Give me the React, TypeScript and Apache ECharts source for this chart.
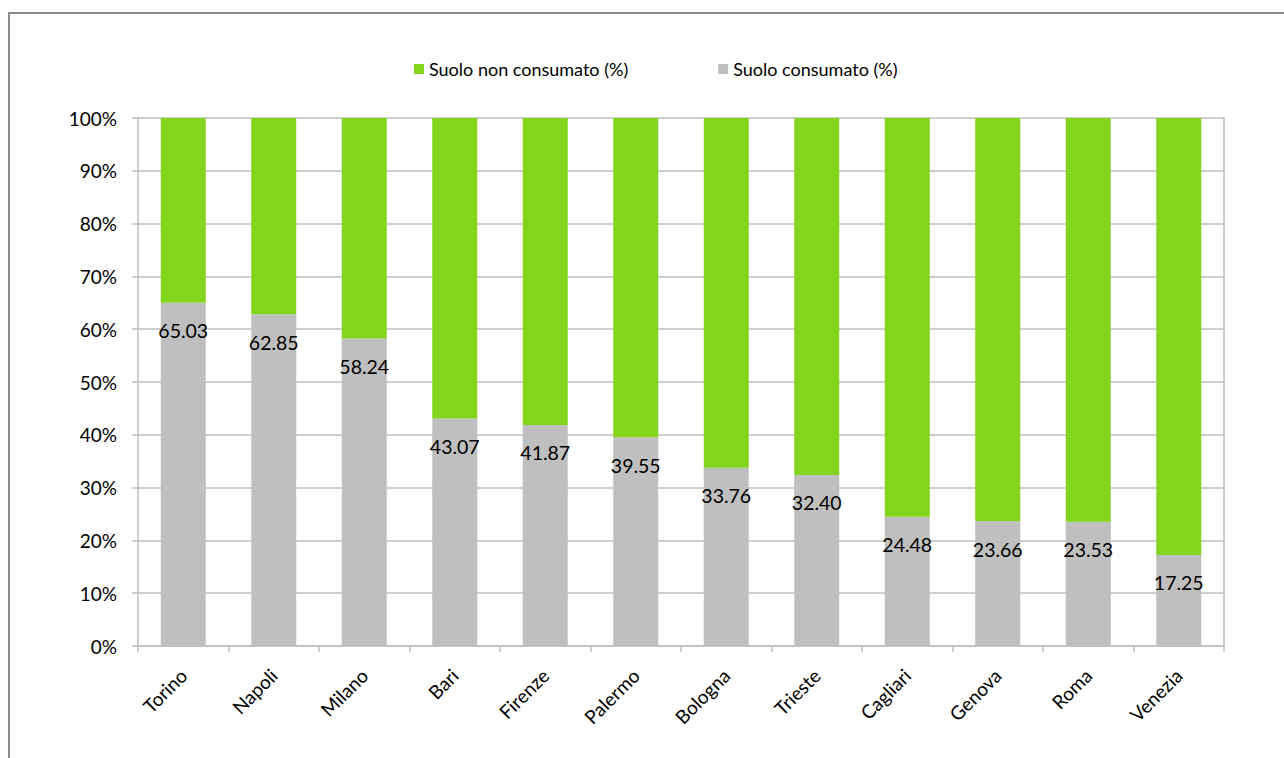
import React, { useEffect, useRef } from "react";
import * as echarts from "echarts";

const cities = ["Torino", "Napoli", "Milano", "Bari", "Firenze", "Palermo", "Bologna", "Trieste", "Cagliari", "Genova", "Roma", "Venezia"];
const consumed = [65.03, 62.85, 58.24, 43.07, 41.87, 39.55, 33.76, 32.4, 24.48, 23.66, 23.53, 17.25];
const notConsumed = [34.97, 37.15, 41.76, 56.93, 58.13, 60.45, 66.24, 67.6, 75.52, 76.34, 76.47, 82.75];
const seriesNames = ["Suolo non consumato (%)", "Suolo consumato (%)"];

const FONT = "Lato";
const GRID_COLOR = "#BFBFBF";

export default function App() {
  const ref = useRef<HTMLDivElement>(null);
  useEffect(() => {
    document.body.style.margin = "0";
    const chart = echarts.init(ref.current!, null, { renderer: "svg" });
    chart.setOption({
      animation: false,
      backgroundColor: "#ffffff",
      textStyle: { fontFamily: FONT, color: "#000" },
      graphic: [
        {
          type: "rect",
          shape: { x: 9, y: 13, width: 1400, height: 900 },
          style: { fill: "none", stroke: "#8a8a8a", lineWidth: 2 },
          silent: true,
        },
      ],
      legend: {
        data: [seriesNames[0], seriesNames[1]],
        left: 409,
        top: 55,
        itemWidth: 10,
        itemHeight: 10,
        itemGap: 90,
        icon: "rect",
        textStyle: { fontFamily: FONT, fontSize: 18, color: "#000" },
      },
      grid: { left: 138, right: 60, top: 118, bottom: 112, containLabel: false },
      xAxis: {
        type: "category",
        data: cities,
        axisLine: { show: true, lineStyle: { color: GRID_COLOR, width: 1.5 } },
        axisTick: { show: true, length: 6, alignWithLabel: false, lineStyle: { color: GRID_COLOR, width: 1.5 } },
        axisLabel: { interval: 0, rotate: 45, margin: 26, fontFamily: FONT, fontSize: 19, color: "#000" },
      },
      yAxis: [
        {
          type: "value",
          min: 0,
          max: 100,
          interval: 10,
          axisLine: { show: true, lineStyle: { color: GRID_COLOR, width: 1.5 } },
          axisTick: { show: true, length: 6, lineStyle: { color: GRID_COLOR, width: 1.5 } },
          splitLine: { show: true, lineStyle: { color: GRID_COLOR, width: 1.5 } },
          axisLabel: { formatter: "{value}%", margin: 21, fontFamily: FONT, fontSize: 19, color: "#000" },
        },
        {
          type: "value",
          position: "right",
          min: 0,
          max: 100,
          interval: 10,
          axisLine: { show: true, lineStyle: { color: GRID_COLOR, width: 1.5 } },
          axisTick: { show: false },
          splitLine: { show: false },
          axisLabel: { show: false },
        },
      ],
      series: [
        {
          name: seriesNames[1],
          type: "bar",
          stack: "total",
          barWidth: 45,
          data: consumed,
          itemStyle: { color: "#BFBFBF" },
          label: {
            show: true,
            position: "insideTop",
            distance: 18,
            formatter: (p: any) => Number(p.value).toFixed(2),
            fontFamily: FONT,
            fontSize: 19.5,
            color: "#000",
          },
        },
        {
          name: seriesNames[0],
          type: "bar",
          stack: "total",
          barWidth: 45,
          data: notConsumed,
          itemStyle: { color: "#83D41C" },
        },
      ],
    });
    return () => chart.dispose();
  }, []);
  return <div ref={ref} style={{ position: "fixed", left: 0, top: 0, width: 1284, height: 758 }} />;
}
